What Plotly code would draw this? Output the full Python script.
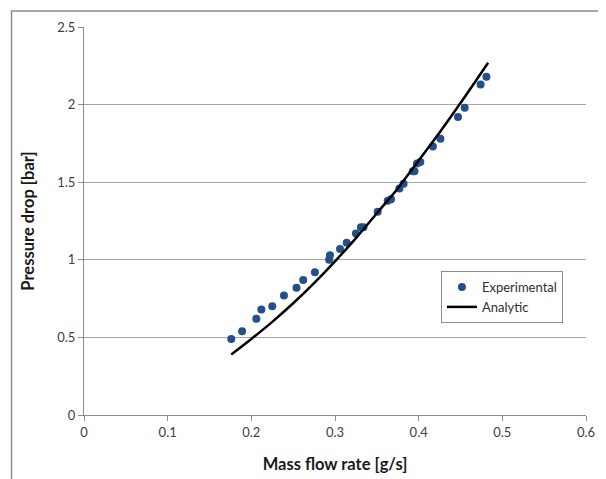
import plotly.graph_objects as go

exp_flow = [0.176, 0.189, 0.206, 0.212, 0.225, 0.239, 0.254, 0.262, 0.276, 0.293,
            0.294, 0.306, 0.314, 0.325, 0.331, 0.334, 0.351, 0.363, 0.367, 0.377,
            0.382, 0.393, 0.395, 0.398, 0.402, 0.417, 0.426, 0.447, 0.455, 0.474, 0.481]
exp_dp = [0.49, 0.54, 0.62, 0.68, 0.70, 0.77, 0.82, 0.87, 0.92, 1.00,
          1.03, 1.07, 1.11, 1.17, 1.21, 1.21, 1.31, 1.38, 1.39, 1.46,
          1.49, 1.57, 1.57, 1.62, 1.63, 1.73, 1.78, 1.92, 1.98, 2.13, 2.18]

# Analytic curve
ana_flow = [0.176, 0.200, 0.225, 0.250, 0.275, 0.300, 0.325, 0.350, 0.375, 0.400, 0.425, 0.450, 0.483]
ana_dp = [0.39, 0.49, 0.60, 0.72, 0.85, 0.99, 1.14, 1.30, 1.46, 1.64, 1.82, 2.01, 2.27]

x_ticks = [0, 0.1, 0.2, 0.3, 0.4, 0.5, 0.6]
x_tick_text = ["0", "0.1", "0.2", "0.3", "0.4", "0.5", "0.6"]
y_ticks = [0, 0.5, 1, 1.5, 2, 2.5]
y_tick_text = ["0", "0.5", "1", "1.5", "2", "2.5"]

FONT = "Lato, 'Open Sans', sans-serif"

fig = go.Figure()
fig.add_trace(go.Scatter(x=exp_flow, y=exp_dp, mode="markers", name="Experimental",
                         marker=dict(color="#24508A", size=8)))
fig.add_trace(go.Scatter(x=ana_flow, y=ana_dp, mode="lines", name="Analytic",
                         line=dict(color="black", width=2.5, shape="spline")))

# page body has an 8px margin, so the figure starts at (8, 8)
fig.update_layout(
    width=598, height=471,
    margin=dict(l=76, r=20, t=19, b=64),
    paper_bgcolor="white", plot_bgcolor="white",
    font=dict(family=FONT, color="#404040", size=13),
    showlegend=True,
    legend=dict(x=0.711, y=0.371, xanchor="left", yanchor="top",
                bordercolor="#8c8c8c", borderwidth=1, bgcolor="white",
                font=dict(size=13, color="#303030"), tracegroupgap=0,
                itemwidth=30),
    xaxis=dict(range=[0, 0.6], tickvals=x_ticks, ticktext=x_tick_text,
               showgrid=False, zeroline=False, showline=True, linecolor="#8c8c8c",
               linewidth=1, ticks="outside", ticklen=5, tickcolor="#8c8c8c",
               automargin=False,
               title=dict(text="<b>Mass flow rate [g/s]</b>", standoff=19,
                          font=dict(size=16.5, color="#1a1a1a"))),
    yaxis=dict(range=[0, 2.5], tickvals=y_ticks, ticktext=y_tick_text,
               showgrid=True, gridcolor="#a6a6a6", gridwidth=1, zeroline=False,
               showline=True, linecolor="#8c8c8c", linewidth=1,
               ticks="outside", ticklen=5, tickcolor="#8c8c8c",
               automargin=False,
               title=dict(text="<b>Pressure drop [bar]</b>", standoff=18,
                          font=dict(size=16.5, color="#1a1a1a"))),
)

# Outer chart frame (partially visible)
fig.add_shape(type="rect", xref="paper", yref="paper",
              x0=-0.1444, x1=1.2, y0=-0.3, y1=1.0412,
              line=dict(color="#8c8c8c", width=1.5), fillcolor="rgba(0,0,0,0)",
              layer="below")

fig.write_html("out.html")
